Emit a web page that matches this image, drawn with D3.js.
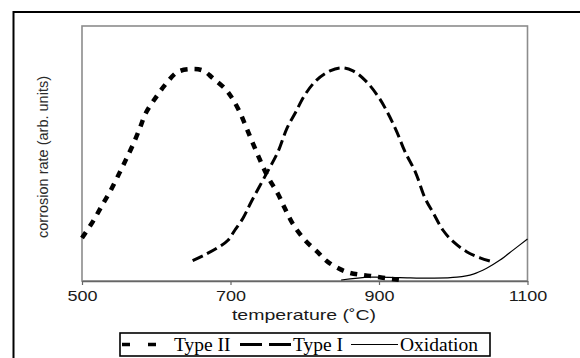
<!DOCTYPE html>
<html>
<head>
<meta charset="utf-8">
<script src="https://cdn.jsdelivr.net/npm/d3@7"></script>
<style>
  body { margin: 0; background: #fff; }
  svg { display: block; }
</style>
</head>
<body>
<svg id="chart"></svg>
<script>
// values (rate in arbitrary units, 0-100)
const typeIITemp = [500, 515, 528, 539, 551, 559, 569, 578, 586, 600, 613, 629, 650, 664, 676, 693, 702, 713, 721, 730, 749, 764, 773, 784, 800, 817, 831, 857, 888, 928];
const typeIIRate = [16.9, 23.5, 30.2, 35.7, 42.7, 47.5, 53.7, 60, 65.9, 72.2, 77.3, 82, 83.1, 82.4, 79.6, 75.3, 71.8, 65.9, 60.4, 54.1, 41.6, 34.1, 28.6, 22.4, 16.1, 11.4, 7.5, 3.5, 2.0, 0.4];

const typeITemp = [649, 665, 683, 697, 706, 717, 728, 749, 764, 776, 787, 800, 816, 834, 850, 865, 881, 899, 912, 924, 935, 949, 962, 973, 986, 1000, 1018, 1036, 1050];
const typeIRate = [8.0, 10.2, 13.1, 16.1, 20, 24.7, 31.1, 42.4, 50.7, 59.9, 65.8, 72.9, 78.8, 82.4, 83.6, 82.4, 78.8, 72.3, 65.8, 58.5, 50.7, 42.7, 32.5, 26.7, 20, 15.4, 11.5, 9.1, 7.8];

const oxidationTemp = [849, 888, 928, 973, 1005, 1027, 1045, 1063, 1081, 1100];
const oxidationRate = [0.4, 1.5, 1.3, 1.1, 1.5, 2.7, 5.0, 8.2, 12.2, 16.5];

const xTicks = [500, 700, 900, 1100];
const legendLabels = ['Type II', 'Type I', 'Oxidation'];

const config = {
    width: 580,
    height: 358,
    margin: { top: 26, right: 52.5, bottom: 77, left: 82 }
};

const width = config.width - config.margin.left - config.margin.right;
const height = config.height - config.margin.top - config.margin.bottom;

const svg = d3.select('#chart')
    .attr('width', config.width)
    .attr('height', config.height);

// outer frame, runs off the right and bottom edges
svg.append('rect')
    .attr('x', 13.5)
    .attr('y', 12)
    .attr('width', 700)
    .attr('height', 500)
    .attr('fill', 'none')
    .attr('stroke', '#000')
    .attr('stroke-width', 2);

const chart = svg.append('g')
    .attr('transform', `translate(${config.margin.left},${config.margin.top})`);

const xScale = d3.scaleLinear()
    .domain([500, 1100])
    .range([0, width]);

const yScale = d3.scaleLinear()
    .domain([0, 100])
    .range([height, 0]);

// plot box
chart.append('rect')
    .attr('width', width)
    .attr('height', height)
    .attr('fill', 'none')
    .attr('stroke', '#8c8c8c')
    .attr('stroke-width', 1.6);

const xAxis = d3.axisBottom(xScale)
    .tickValues(xTicks)
    .tickFormat(d3.format('d'))
    .tickSize(4)
    .tickSizeOuter(0)
    .tickPadding(5);

const xAxisG = chart.append('g')
    .attr('transform', `translate(0,${height})`)
    .call(xAxis);

xAxisG.select('.domain')
    .attr('stroke', '#666')
    .attr('stroke-width', 1.6);

xAxisG.selectAll('.tick line')
    .attr('stroke', '#666')
    .attr('stroke-width', 1.2);

xAxisG.selectAll('.tick text')
    .attr('font-family', 'Liberation Sans, Arial, sans-serif')
    .attr('font-size', 15)
    .attr('fill', '#1a1a1a')
    .attr('dy', '0.71em');

// the sans text in the picture is stretched sideways
function stretch(sel, k) {
    sel.each(function () {
        const w = this.getComputedTextLength();
        d3.select(this)
            .attr('textLength', w * k)
            .attr('lengthAdjust', 'spacingAndGlyphs');
    });
}
stretch(xAxisG.selectAll('.tick text'), 1.2);

const xTitle = svg.append('text')
    .attr('x', 304)
    .attr('y', 320)
    .attr('text-anchor', 'middle')
    .attr('font-family', 'Liberation Sans, Arial, sans-serif')
    .attr('font-size', 15)
    .attr('fill', '#1a1a1a')
    .text('temperature (˚C)');
stretch(xTitle, 1.3);

svg.append('text')
    .attr('transform', 'translate(48,157) rotate(-90)')
    .attr('text-anchor', 'middle')
    .attr('font-family', 'Liberation Sans, Arial, sans-serif')
    .attr('font-size', 14.5)
    .attr('fill', '#2a2a2a')
    .text('corrosion rate (arb. units)');

const line = d3.line()
    .x(d => xScale(d[0]))
    .y(d => yScale(d[1]))
    .curve(d3.curveCatmullRom);

const series = [
    { label: legendLabels[0], temp: typeIITemp, rate: typeIIRate, width: 4.5, dash: '7,7' },
    { label: legendLabels[1], temp: typeITemp, rate: typeIRate, width: 3, dash: '11,5' },
    { label: legendLabels[2], temp: oxidationTemp, rate: oxidationRate, width: 1.2, dash: null }
];

chart.selectAll('.series')
    .data(series)
    .join('path')
    .attr('class', 'series')
    .attr('d', s => line(d3.zip(s.temp, s.rate)))
    .attr('fill', 'none')
    .attr('stroke', '#000')
    .attr('stroke-width', s => s.width)
    .attr('stroke-dasharray', s => s.dash);

// legend
const legend = svg.append('g');

legend.append('rect')
    .attr('x', 120)
    .attr('y', 333)
    .attr('width', 370)
    .attr('height', 23)
    .attr('fill', '#fff')
    .attr('stroke', '#000')
    .attr('stroke-width', 1.6);

const legendItems = [
    { sample: [122, 160], text: 174, dash: '8,18', width: 3.5 },
    { sample: [240, 291], text: 293, dash: '22,7', width: 3 },
    { sample: [351, 398], text: 400, dash: null, width: 1 }
];

legendItems.forEach((item, i) => {
    legend.append('line')
        .attr('x1', item.sample[0])
        .attr('x2', item.sample[1])
        .attr('y1', 344.5)
        .attr('y2', 344.5)
        .attr('stroke', '#000')
        .attr('stroke-width', item.width)
        .attr('stroke-dasharray', item.dash);

    legend.append('text')
        .attr('x', item.text)
        .attr('y', 350.5)
        .attr('font-family', 'Liberation Serif, Times New Roman, serif')
        .attr('font-size', 19.5)
        .attr('fill', '#000')
        .text(series[i].label);
});
</script>
</body>
</html>
